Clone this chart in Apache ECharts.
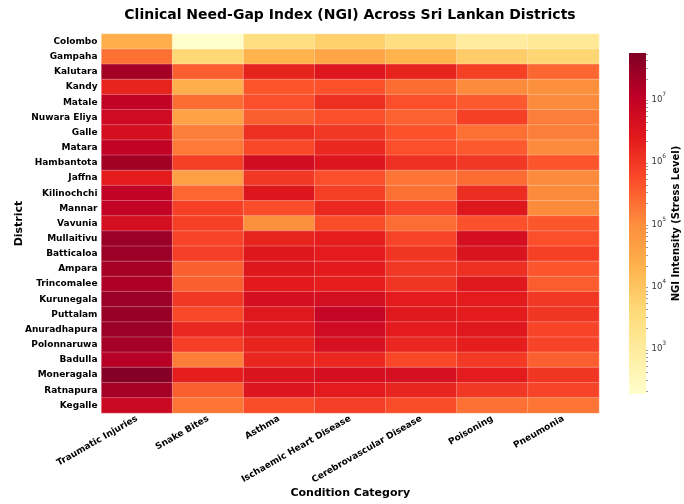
<!DOCTYPE html>
<html>
<head>
<meta charset="utf-8">
<script src="https://cdn.jsdelivr.net/npm/echarts@6/dist/echarts.min.js"></script>
<style>html,body{margin:0;padding:0;background:#fff}#c{width:684px;height:504px}</style>
</head>
<body>
<div id="c"></div>
<script>
const districts = ['Colombo','Gampaha','Kalutara','Kandy','Matale','Nuwara Eliya','Galle','Matara','Hambantota','Jaffna','Kilinochchi','Mannar','Vavunia','Mullaitivu','Batticaloa','Ampara','Trincomalee','Kurunegala','Puttalam','Anuradhapura','Polonnaruwa','Badulla','Moneragala','Ratnapura','Kegalle'];
const conditions = ['Traumatic Injuries','Snake Bites','Asthma','Ischaemic Heart Disease','Cerebrovascular Disease','Poisoning','Pneumonia'];

const traumaticInjuries = [2.4e4,2e5,2e7,1.7e6,9e6,5.4e6,4.2e6,9e6,2.1e7,2.2e6,9e6,8.5e6,4.2e6,2.6e7,2.6e7,1.9e7,1.6e7,2.6e7,2.8e7,2.6e7,2e7,1.3e7,4.5e7,2e7,6.3e6];
const snakeBites = [180,4.2e3,3e5,2.4e4,2.2e5,4e4,1.4e5,1.6e5,7e5,4.5e4,2.5e5,7e5,7e5,6.5e5,7.5e5,3e5,3e5,9e5,5.6e5,1.5e6,7.5e5,1.4e5,2e6,3e5,1.8e5];
const asthma = [2.8e3,1.9e4,1.7e6,3.9e5,4.6e5,3e5,1.2e6,5.6e5,4.8e6,9e5,2.9e6,5e5,8.5e4,1.7e6,2.7e6,2.7e6,2.3e6,4.2e6,2.6e6,2.6e6,1.7e6,1.5e6,3.3e6,3e6,5e5];
const ischaemicHeartDisease = [6e3,3.5e4,2.9e6,4.3e5,1.2e6,4.7e5,9e5,1.45e6,2.9e6,4.6e5,7e5,1.45e6,5e5,2e6,2.2e6,2.3e6,2e6,4.6e6,8e6,5.4e6,4e6,1.45e6,4.3e6,2.2e6,7.5e5];
const cerebrovascularDisease = [2.8e3,1.9e4,1.7e6,2.2e5,4.7e5,2.8e5,4.3e5,4.7e5,1.1e6,1.8e5,2e5,6.5e5,2.2e5,6.5e5,1e6,9e5,1e6,2.2e6,2.6e6,2.2e6,1.5e6,5.6e5,4e6,1.6e6,5e5];
const poisoning = [900,7e3,7e5,1e5,3.4e5,7e5,2e5,3.4e5,9e5,2.2e5,1.25e6,2.7e6,4.3e5,4.2e6,3.2e6,1.2e6,2.6e6,2.2e6,2.2e6,2.6e6,2e6,8.5e5,2.2e6,9e5,1.9e5];
const pneumonia = [1.2e3,4.7e3,2.5e5,8.5e4,1e5,1.4e5,1.4e5,1e5,3.9e5,1e5,1e5,1e5,3.8e5,4.6e5,7e5,4e5,3.2e5,9e5,1e6,6.5e5,6.5e5,3e5,1e6,6.5e5,1.8e5];

const colorMin = 178;
const colorMax = 5.2e7;
const colorbarTickExponents = [3,4,5,6,7];

const columns = [traumaticInjuries, snakeBites, asthma, ischaemicHeartDisease, cerebrovascularDisease, poisoning, pneumonia];
const data = [];
columns.forEach((col, ci) => col.forEach((v, ri) => data.push([ci, ri, Math.log10(v), v])));

const ylorrd = ['#ffffcc','#ffeda0','#fed976','#feb24c','#fd8d3c','#fc4e2a','#e31a1c','#bd0026','#800026'];
const lmin = Math.log10(colorMin), lmax = Math.log10(colorMax);

const minorVals = [];
for (let k = 2; k <= 7; k++) for (let m = 2; m <= 9; m++) {
  const lv = Math.log10(m * Math.pow(10, k));
  if (lv >= lmin && lv <= lmax) minorVals.push(lv);
}

const FONT = 'DejaVu Sans';
const cb = {left: 629, top: 53, width: 17, height: 341};
const chart = echarts.init(document.getElementById('c'), null, {renderer: 'canvas'});
chart.setOption({
  animation: false,
  backgroundColor: '#fff',
  textStyle: {fontFamily: FONT},
  grid: [
    {left: 101.5, top: 34, width: 497.5, height: 379, containLabel: false, outerBoundsMode: 'none'},
    {left: cb.left, top: cb.top, width: cb.width, height: cb.height, containLabel: false, outerBoundsMode: 'none'}
  ],
  xAxis: [
    {type: 'category', gridIndex: 0, data: conditions,
     axisLine: {show: false}, axisTick: {show: false}, splitLine: {show: false},
     axisLabel: {rotate: 30, interval: 0, margin: 5, fontSize: 9, fontWeight: 'bold', color: '#000', fontFamily: FONT},
     name: 'Condition Category', nameLocation: 'middle', nameGap: 75, nameMoveOverlap: false,
     nameTextStyle: {fontSize: 11, fontWeight: 'bold', color: '#000', fontFamily: FONT}},
    {type: 'value', gridIndex: 1, show: false, min: 0, max: 1}
  ],
  yAxis: [
    {type: 'category', gridIndex: 0, data: districts, inverse: true,
     axisLine: {show: false}, axisTick: {show: false}, splitLine: {show: false},
     axisLabel: {interval: 0, margin: 4, fontSize: 9, fontWeight: 'bold', color: '#000', fontFamily: FONT},
     name: 'District', nameLocation: 'middle', nameGap: 77, nameRotate: 90, nameMoveOverlap: false,
     nameTextStyle: {fontSize: 11, fontWeight: 'bold', color: '#000', fontFamily: FONT}},
    {type: 'value', gridIndex: 1, position: 'right', min: lmin, max: lmax,
     axisLine: {show: false}, splitLine: {show: false},
     axisTick: {show: true, length: 3.5, customValues: colorbarTickExponents, lineStyle: {color: '#333', width: 0.8}},
     axisLabel: {show: true, customValues: colorbarTickExponents, margin: 5.5, color: '#333', fontFamily: FONT,
       formatter: v => '{b|10}{s|' + Math.round(v) + '}',
       rich: {b: {fontSize: 8.5, color: '#333', fontFamily: FONT, lineHeight: 13, verticalAlign: 'bottom'},
              s: {fontSize: 6, color: '#333', fontFamily: FONT, verticalAlign: 'top', lineHeight: 13}}},
     name: 'NGI Intensity (Stress Level)', nameLocation: 'middle', nameGap: 25, nameRotate: 90, nameMoveOverlap: false,
     nameTextStyle: {fontSize: 10, fontWeight: 'bold', color: '#000', fontFamily: FONT}},
    {type: 'value', gridIndex: 1, position: 'right', min: lmin, max: lmax,
     axisLine: {show: false}, splitLine: {show: false},
     axisTick: {show: true, length: 2, customValues: minorVals, lineStyle: {color: '#555', width: 0.6}},
     axisLabel: {show: false}}
  ],
  visualMap: {
    type: 'continuous', show: false, dimension: 2, seriesIndex: 0,
    min: lmin, max: lmax, inRange: {color: ylorrd}
  },
  graphic: [
    {type: 'rect', z: 1, shape: {x: cb.left, y: cb.top, width: cb.width, height: cb.height},
     style: {fill: new echarts.graphic.LinearGradient(0, 0, 0, 1,
        ylorrd.slice().reverse().map((c, i) => ({offset: i / (ylorrd.length - 1), color: c})))}},
    {type: 'text', x: 350, y: 15, z: 5,
     style: {text: 'Clinical Need-Gap Index (NGI) Across Sri Lankan Districts', font: 'bold 14px "DejaVu Sans"',
       fill: '#000', align: 'center', verticalAlign: 'middle'}}
  ],
  series: [{
    type: 'heatmap', xAxisIndex: 0, yAxisIndex: 0, data: data,
    itemStyle: {borderColor: 'rgba(255,255,255,0.45)', borderWidth: 0.6},
    emphasis: {disabled: true}
  }]
});
</script>
</body>
</html>
